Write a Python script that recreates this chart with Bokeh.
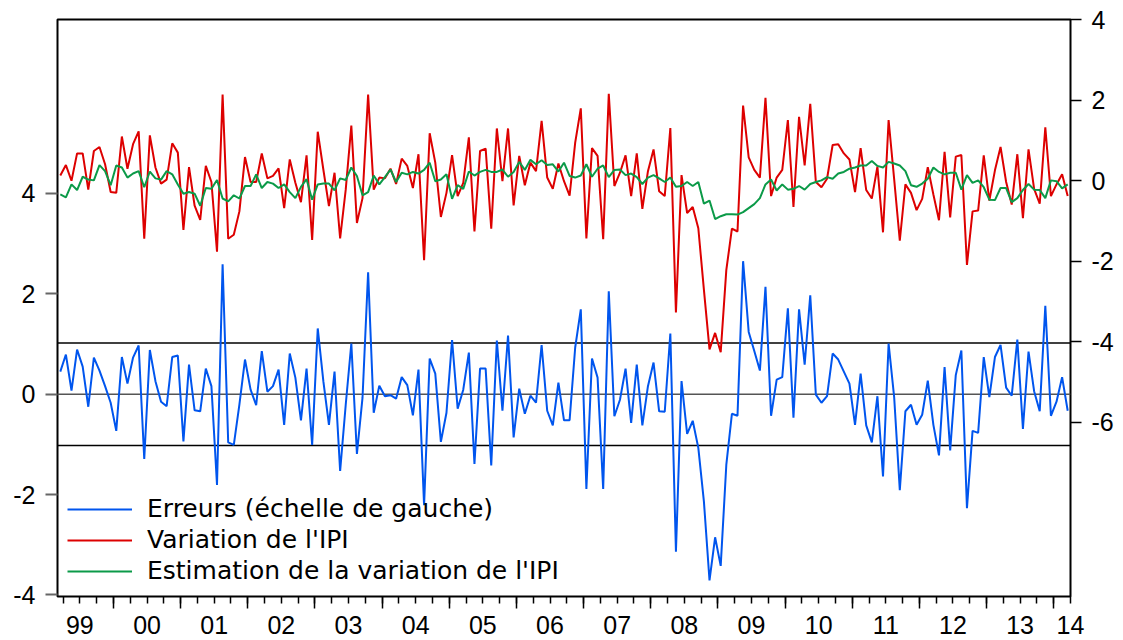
from bokeh.plotting import figure
from bokeh.models import (Range1d, LinearAxis, FixedTicker, Span, Legend, LegendItem)
from bokeh.embed import file_html
from bokeh.resources import INLINE

# ---------------- data (monthly, 1999M03 .. 2014M03) ----------------
start_year, start_month = 1999, 3

# residuals (left scale)
erreurs = [
    0.45, 0.79, 0.07, 0.89, 0.55, -0.25, 0.73, 0.47, 0.16, -0.17,                 # 1999
    -0.73, 0.74, 0.21, 0.73, 0.97, -1.29, 0.88, 0.26, -0.15, -0.24, 0.74, 0.77,    # 2000
    -0.94, 0.59, -0.32, -0.34, 0.51, 0.16, -1.81, 2.59, -0.96, -1.01, -0.21, 0.69, # 2001
    0.09, -0.22, 0.86, 0.05, 0.16, 0.49, -0.61, 0.81, 0.33, -0.52, 0.51, -1.01,    # 2002
    1.31, 0.26, -0.61, 0.45, -1.53, -0.21, 1.01, -1.19, -0.07, 2.43, -0.37, 0.17,  # 2003
    -0.04, -0.02, -0.09, 0.34, 0.18, -0.42, 0.49, -2.21, 0.71, 0.41, -0.95, -0.37, # 2004
    1.08, -0.29, 0.09, 0.83, -1.39, 0.51, 0.51, -1.42, 1.07, -0.33, 1.17, -0.86,   # 2005
    0.11, -0.39, -0.03, -0.17, 0.98, -0.33, -0.62, 0.23, -0.52, -0.52, 0.93, 1.69, # 2006
    -1.89, 0.71, 0.33, -1.89, 2.05, -0.44, -0.11, 0.51, -0.57, 0.59, -0.62, 0.16,  # 2007
    0.63, -0.34, -0.35, 1.21, -3.14, 0.26, -0.79, -0.53, -1.07, -2.14, -3.71, -2.85,  # 2008
    -3.42, -1.41, -0.39, -0.43, 2.65, 1.24, 0.86, 0.47, 2.14, -0.43, 0.29, 0.34,   # 2009
    1.71, -0.47, 1.69, 0.59, 1.97, -0.01, -0.17, -0.04, 0.81, 0.69, 0.45, 0.21,    # 2010
    -0.61, 0.41, -0.62, -0.96, -0.04, -1.64, 1.01, -0.07, -1.91, -0.34, -0.21, -0.61,  # 2011
    -0.41, 0.27, -0.61, -1.22, 0.54, -1.12, 0.38, 0.87, -2.27, -0.73, -0.77, 0.74, # 2012
    -0.06, 0.74, 0.98, 0.13, -0.03, 1.09, -0.69, 0.85, 0.06, -0.34, 1.76, -0.43,   # 2013
    -0.15, 0.34, -0.33,                                                            # 2014
]

# actual IPI variation (right scale)
variation = [
    0.13, 0.39, 0.00, 0.68, 0.68, -0.22, 0.74, 0.84, 0.41, -0.28,                  # 1999
    -0.30, 1.10, 0.30, 0.91, 1.23, -1.44, 1.13, 0.33, -0.07, 0.03, 0.93, 0.70,      # 2000
    -1.22, 0.34, -0.62, -0.97, 0.37, -0.03, -1.76, 2.14, -1.44, -1.34, -0.76, 0.59, # 2001
    -0.03, -0.03, 0.68, 0.06, 0.12, 0.31, -0.68, 0.53, -0.05, -0.53, 0.63, -1.47,   # 2002
    1.22, 0.28, -0.63, 0.20, -1.43, -0.22, 1.37, -1.05, -0.43, 2.14, -0.22, 0.08,   # 2003
    0.06, 0.30, -0.08, 0.55, 0.37, -0.18, 0.66, -1.97, 1.18, 0.45, -0.90, -0.30,    # 2004
    0.64, -0.38, -0.05, 1.08, -1.26, 0.74, 0.80, -1.19, 1.30, -0.01, 1.30, -0.61,   # 2005
    0.62, -0.11, 0.45, 0.24, 1.49, 0.08, -0.20, 0.43, -0.01, -0.37, 0.95, 1.80,     # 2006
    -1.43, 0.81, 0.62, -1.45, 2.16, -0.13, 0.20, 0.63, -0.38, 0.68, -0.70, 0.24,    # 2007
    0.78, -0.26, -0.38, 1.31, -3.27, 0.14, -0.80, -0.65, -1.18, -2.71, -4.19, -3.78,  # 2008
    -4.26, -2.22, -1.19, -1.26, 1.87, 0.58, 0.27, 0.08, 2.06, -0.38, 0.08, 0.27,    # 2009
    1.51, -0.65, 1.59, 0.38, 1.91, -0.03, -0.16, 0.05, 0.89, 0.91, 0.68, 0.53,      # 2010
    -0.28, 0.81, -0.23, -0.44, 0.35, -1.28, 1.51, 0.03, -1.49, -0.09, -0.30, -0.73, # 2011
    -0.45, 0.34, -0.34, -0.98, 0.72, -0.91, 0.60, 0.64, -2.09, -0.76, -0.74, 0.63,  # 2012
    -0.49, 0.26, 0.84, -0.03, -0.59, 0.66, -0.93, 0.78, -0.20, -0.57, 1.33, -0.38,  # 2013
    -0.09, 0.16, -0.38,                                                             # 2014
]

# fitted IPI variation (right scale)
estimation = [
    -0.34, -0.41, -0.09, -0.23, 0.10, 0.03, 0.01, 0.39, 0.24, -0.11,                   # 1999
    0.38, 0.33, 0.08, 0.18, 0.24, -0.16, 0.23, 0.06, 0.03, 0.24, 0.16, -0.09,           # 2000
    -0.32, -0.28, -0.32, -0.62, -0.18, -0.20, 0.02, -0.44, -0.51, -0.36, -0.44, -0.13,  # 2001
    -0.13, 0.16, -0.18, -0.03, -0.07, -0.18, -0.09, -0.28, -0.43, -0.15, 0.04, -0.47,   # 2002
    -0.09, -0.07, -0.07, -0.24, 0.06, 0.02, 0.33, 0.12, -0.36, -0.28, 0.13, -0.09,      # 2003
    0.09, 0.28, -0.03, 0.20, 0.16, 0.22, 0.18, 0.27, 0.45, -0.01, 0.03, 0.16,           # 2004
    -0.45, -0.11, -0.20, 0.23, 0.13, 0.22, 0.27, 0.22, 0.22, 0.28, 0.10, 0.22,          # 2005
    0.47, 0.27, 0.52, 0.41, 0.51, 0.39, 0.41, 0.23, 0.45, 0.12, 0.08, 0.13,             # 2006
    0.41, 0.10, 0.30, 0.38, 0.09, 0.27, 0.28, 0.14, 0.18, 0.09, -0.08, 0.08,            # 2007
    0.14, 0.06, -0.03, 0.08, -0.15, -0.13, -0.03, -0.13, -0.03, -0.57, -0.49, -0.95,    # 2008
    -0.88, -0.83, -0.83, -0.84, -0.78, -0.68, -0.58, -0.43, -0.09, 0.03, -0.24, -0.09,  # 2009
    -0.22, -0.20, -0.13, -0.22, -0.08, -0.03, 0.01, 0.09, 0.05, 0.18, 0.22, 0.30,       # 2010
    0.33, 0.38, 0.38, 0.49, 0.37, 0.33, 0.47, 0.43, 0.38, 0.24, -0.11, -0.15,           # 2011
    -0.07, 0.05, 0.33, 0.22, 0.16, 0.20, 0.20, -0.22, 0.14, -0.05, 0.01, -0.16,         # 2012
    -0.47, -0.48, -0.18, -0.18, -0.53, -0.43, -0.23, -0.08, -0.22, -0.23, -0.43, 0.01,  # 2013
    -0.01, -0.19, -0.09,                                                                # 2014
]

year_labels = ["99", "00", "01", "02", "03", "04", "05", "06", "07",
               "08", "09", "10", "11", "12", "13", "14"]
legend_labels = ["Erreurs (échelle de gauche)", "Variation de l'IPI",
                 "Estimation de la variation de l'IPI"]
left_ticks = [-4, -2, 0, 2, 4]
right_ticks = [-6, -4, -2, 0, 2, 4]
std_err = 1.02          # +/- 1 standard-error band of the residuals
left_range = (-4.03, 7.464)
right_range = (-10.328, 4.007)

# ---------------- helpers ----------------
n = len(erreurs)
assert n == len(variation) == len(estimation), (n, len(variation), len(estimation))
xs = list(range(n))


def month_index(y, m):
    return (y - start_year) * 12 + (m - start_month)


first_year = start_year
last_year = start_year + (start_month - 1 + n - 1) // 12
quarter_bounds = [month_index(y, m) - 0.5
                  for y in range(first_year, last_year + 1) for m in (1, 4, 7, 10)
                  if -0.5 <= month_index(y, m) - 0.5 <= n - 0.5]
year_bounds = [month_index(y, 1) - 0.5 for y in range(first_year + 1, last_year + 1)]
label_pos = [min(month_index(first_year + k, 7) - 0.5, n - 0.5)
             for k in range(len(year_labels))]
x_overrides = {q: "" for q in quarter_bounds}
for pos, lab in zip(label_pos, year_labels):
    x_overrides[pos] = lab

AX_FONT = "Liberation Sans"
LEG_FONT = "DejaVu Sans"
RED = "#DD0000"
GREEN = "#0B9A48"
BLUE = "#0055EE"

p = figure(width=1122, height=639, output_backend="svg", toolbar_location=None,
           x_range=Range1d(-0.5, n - 0.5), y_range=Range1d(*left_range),
           min_border_left=57, min_border_right=52, min_border_top=19,
           min_border_bottom=43)
p.extra_y_ranges = {"right": Range1d(*right_range)}
p.background_fill_color = "white"
p.border_fill_color = "white"
p.outline_line_color = "black"
p.outline_line_width = 2
p.xgrid.visible = False
p.ygrid.visible = False

# bottom axis: quarter ticks (short), year ticks (long), labels mid-year
xa = p.xaxis[0]
xa.ticker = FixedTicker(ticks=quarter_bounds, minor_ticks=year_bounds)
xa.major_label_overrides = x_overrides
xa.axis_line_color = None
xa.major_tick_in = 0
xa.major_tick_out = 7
xa.minor_tick_in = 0
xa.minor_tick_out = 12
xa.major_tick_line_color = "black"
xa.minor_tick_line_color = "black"
xa.major_tick_line_width = 1.5
xa.minor_tick_line_width = 1.5
xa.major_label_text_font = AX_FONT
xa.major_label_text_font_size = "25px"
xa.major_label_text_color = "black"
xa.major_label_standoff = 7

# left axis
ya = p.yaxis[0]
ya.ticker = FixedTicker(ticks=left_ticks)
ya.major_label_overrides = {t: str(t) for t in left_ticks}
ya.axis_line_color = None
ya.major_tick_in = 0
ya.major_tick_out = 12
ya.major_tick_line_color = "#666666"
ya.major_tick_line_width = 2
ya.minor_tick_line_color = None
ya.major_label_standoff = 10
ya.major_label_text_font = AX_FONT
ya.major_label_text_font_size = "25px"
ya.major_label_text_color = "black"

# right axis
ra = LinearAxis(y_range_name="right", ticker=FixedTicker(ticks=right_ticks))
ra.major_label_overrides = {t: str(t) for t in right_ticks}
ra.axis_line_color = None
ra.major_tick_in = 0
ra.major_tick_out = 11
ra.major_tick_line_color = "black"
ra.major_tick_line_width = 1.5
ra.minor_tick_line_color = None
ra.major_label_standoff = 10
ra.major_label_text_font = AX_FONT
ra.major_label_text_font_size = "25px"
ra.major_label_text_color = "black"
p.add_layout(ra, "right")

# reference lines (0 and +/- 1 s.e.)
p.add_layout(Span(location=0, dimension="width", line_color="#555555",
                  line_width=1.5, level="underlay"))
for loc in (std_err, -std_err):
    p.add_layout(Span(location=loc, dimension="width", line_color="black",
                      line_width=1.5, level="underlay"))

r_blue = p.line(xs, erreurs, line_color=BLUE, line_width=2)
r_red = p.line(xs, variation, y_range_name="right", line_color=RED, line_width=2)
r_green = p.line(xs, estimation, y_range_name="right", line_color=GREEN, line_width=2)

legend = Legend(items=[LegendItem(label=legend_labels[0], renderers=[r_blue]),
                       LegendItem(label=legend_labels[1], renderers=[r_red]),
                       LegendItem(label=legend_labels[2], renderers=[r_green])],
                location=(10, 11), orientation="vertical",
                glyph_width=65, glyph_height=20, label_standoff=15,
                spacing=2, padding=10, margin=0,
                label_text_font=LEG_FONT, label_text_font_size="25px",
                label_text_color="black",
                background_fill_alpha=0, border_line_color=None)
p.add_layout(legend)

open("out.html", "w").write(file_html(p, INLINE))
